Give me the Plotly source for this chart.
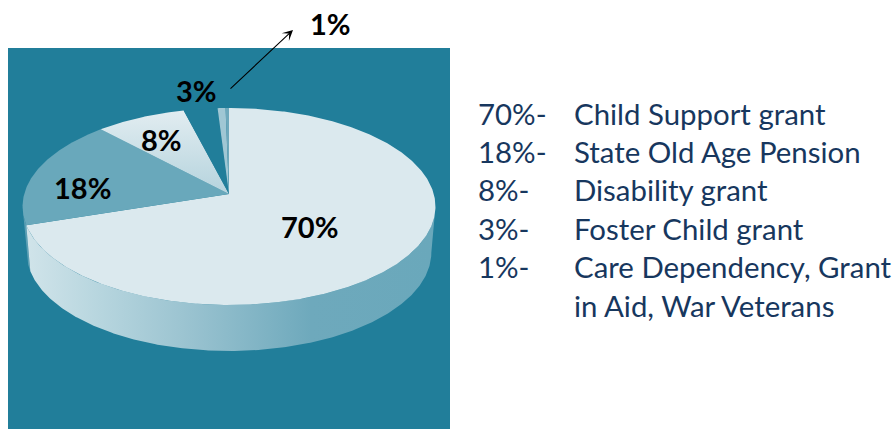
import numpy as np
import plotly.graph_objects as go

# Grant shares, clockwise from twelve o'clock
shares = [70, 18, 8, 3, 1]
share_labels = ["70%", "18%", "8%", "3%", "1%"]
# The 1% wedge is two thin pieces side by side
small_parts = [0.7, 0.3]

legend_pct = ["70%-", "18%-", "8%-", "3%-", "1%-", ""]
legend_names = ["Child Support grant", "State Old Age Pension", "Disability grant",
                "Foster Child grant", "Care Dependency, Grant", "in Aid, War Veterans"]

BG = "#217e9a"
FONT = "Lato"

# Tilted disc: perspective projection of a circle onto the page
CX, CY = 229, 194
A, B, K = 204.8, 96.9, 0.127
DEPTH = 46
BASE_SHRINK = 0.98


def rim(theta_deg):
    t = np.radians(theta_deg)
    w = 1 + K * np.cos(t)
    return CX + A * np.sin(t) / w, CY - B * np.cos(t) / w


def wedge(start, end):
    th = np.linspace(start, end, max(int(abs(end - start) * 2), 4))
    x, y = rim(th)
    return np.r_[CX, x, CX], np.r_[CY, y, CY]


def wall(start, end):
    th = np.linspace(start, end, max(int(abs(end - start) * 2), 4))
    x, y = rim(th)
    bx = CX + (x - CX) * BASE_SHRINK
    by = y + DEPTH
    return np.r_[x, bx[::-1], x[0]], np.r_[y, by[::-1], y[0]]


def poly(xy, color=None, gradient=None):
    kw = dict(fillgradient=gradient) if gradient else dict(fillcolor=color)
    return go.Scatter(x=xy[0], y=xy[1], mode="lines", fill="toself",
                      line=dict(width=0), hoverinfo="skip", showlegend=False, **kw)


pieces = shares[:4] + small_parts
edges = np.cumsum([0] + pieces) / sum(pieces) * 360
side = np.degrees(np.arccos(-K))  # where the rim turns away from the viewer

fig = go.Figure()

# Side walls sit below the top faces
fig.add_trace(poly(wall(edges[1], 360 - side), color="#5c9fb4"))
fig.add_trace(poly(wall(side, edges[1]), gradient=dict(
    type="horizontal", start=30, stop=432,
    colorscale=[[0, "#cfe3e9"], [0.18, "#b6d5de"], [0.38, "#9cc4d1"],
                [0.7, "#6ea9bc"], [1, "#6aa8bb"]])))

# Top faces
fig.add_trace(poly(wedge(edges[0], edges[1]), color="#dbe9ee"))
fig.add_trace(poly(wedge(edges[1], edges[2]), color="#69a8bb"))
fig.add_trace(poly(wedge(edges[2], edges[3]), gradient=dict(
    type="vertical", start=110, stop=194,
    colorscale=[[0, "#e2edf1"], [1, "#b5d3dd"]])))
fig.add_trace(poly(wedge(edges[3], edges[4]), color=BG))
fig.add_trace(poly(wedge(edges[4], edges[5]), color="#a0c7d4"))
fig.add_trace(poly(wedge(edges[5], edges[6]), color="#6fa9bc"))

# Slice labels
label_pos = [(309, 226), (82, 187), (161, 139), (196, 90), (330, 23)]
annotations = [
    dict(x=p[0], y=p[1], text=f"<b>{t}</b>", showarrow=False, xanchor="center", yanchor="middle",
         font=dict(family=FONT, size=29, color="#000000"))
    for t, p in zip(share_labels, label_pos)
]

# Leader line to the 1% label
annotations.append(dict(x=293, y=30, ax=229, ay=90, xref="x", yref="y", axref="x", ayref="y",
                        text="", showarrow=True, arrowhead=3, arrowsize=1.6, arrowwidth=1.1,
                        arrowcolor="#000000"))

# Key at the right
for i, (p, n) in enumerate(zip(legend_pct, legend_names)):
    y = 113 + i * 38.4
    for x, t in ((476, p), (572, n)):
        if t:
            annotations.append(dict(x=x, y=y, text=t, showarrow=False, xanchor="left", yanchor="middle",
                                    font=dict(family=FONT, size=29.4, color="#17375e")))

fig.update_layout(
    width=894, height=429, margin=dict(l=0, r=0, t=0, b=0),
    paper_bgcolor="#ffffff", plot_bgcolor="#ffffff", showlegend=False,
    xaxis=dict(range=[0, 894], visible=False, fixedrange=True),
    yaxis=dict(range=[429, 0], visible=False, fixedrange=True),
    shapes=[dict(type="rect", x0=8, x1=450, y0=48, y1=429, layer="below",
                 fillcolor=BG, line=dict(width=0))],
    annotations=annotations,
)

fig.write_html("out.html", config=dict(displayModeBar=False))
